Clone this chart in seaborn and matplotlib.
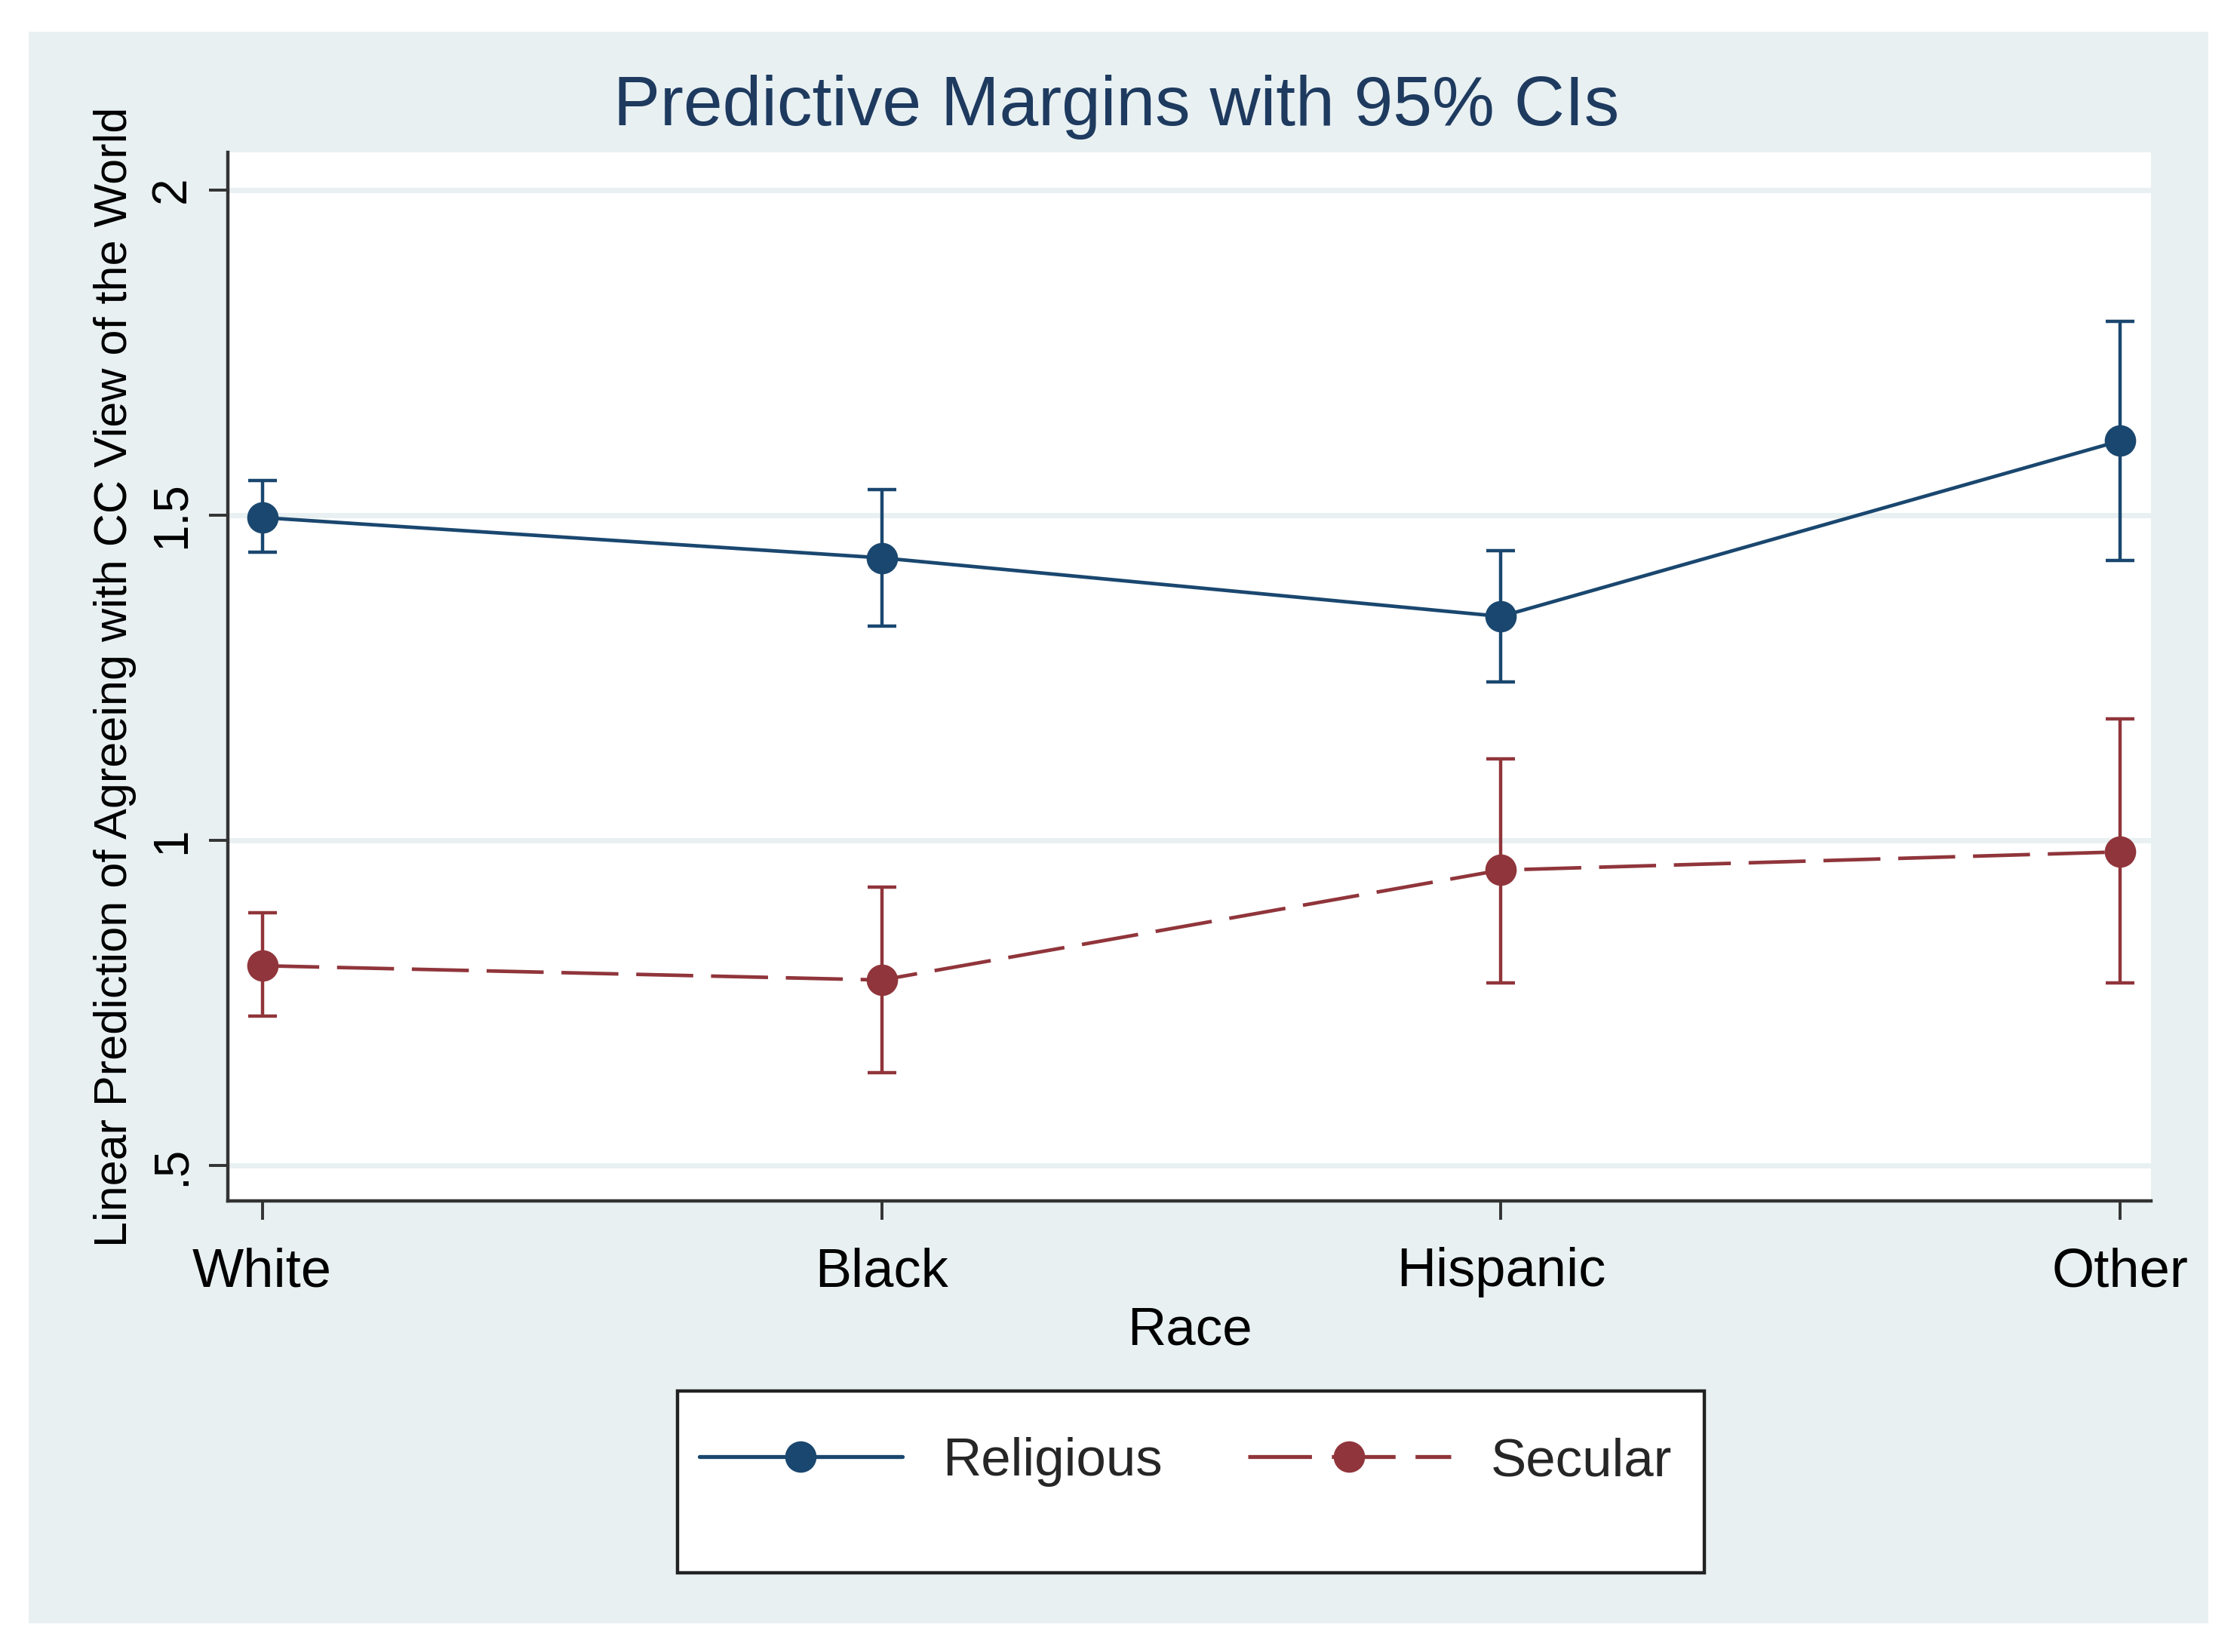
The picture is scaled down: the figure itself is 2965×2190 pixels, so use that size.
import matplotlib
matplotlib.use("Agg")
import matplotlib.pyplot as plt
from matplotlib.patches import Rectangle
import pandas as pd
import seaborn as sns

# values (predictive margins and 95% CIs)
race = ["White", "Black", "Hispanic", "Other"]
religious = [1.496, 1.434, 1.344, 1.614]
religious_lo = [1.443, 1.329, 1.243, 1.430]
religious_hi = [1.553, 1.539, 1.445, 1.798]
secular = [0.807, 0.785, 0.954, 0.982]
secular_lo = [0.730, 0.643, 0.781, 0.781]
secular_hi = [0.888, 0.928, 1.125, 1.186]
groups = ["Religious", "Secular"]
yticks = [0.5, 1.0, 1.5, 2.0]
ytick_labels = [".5", "1", "1.5", "2"]

navy = "#1A476F"
maroon = "#90353B"
bg = "#E8F0F2"

df = pd.DataFrame({
    "race": race * 2,
    "group": [groups[0]] * 4 + [groups[1]] * 4,
    "margin": religious + secular,
    "lo": religious_lo + secular_lo,
    "hi": religious_hi + secular_hi,
})

sns.set_theme(style="white")
plt.rcParams["font.family"] = ["Liberation Sans", "DejaVu Sans"]

fig = plt.figure(figsize=(14.825, 10.95), dpi=200, facecolor="white")
fig.patches.append(Rectangle((0.0128, 0.0173), 0.9744, 0.9637, transform=fig.transFigure,
                             facecolor=bg, edgecolor="none", zorder=-10))
ax = fig.add_axes([0.102, 0.2729, 0.8597, 0.6347])
ax.set_facecolor("white")

palette = {"Religious": navy, "Secular": maroon}

# confidence intervals
for g in groups:
    sub = df[df["group"] == g]
    ax.errorbar(sub["race"], sub["margin"],
                yerr=[sub["margin"] - sub["lo"], sub["hi"] - sub["margin"]],
                fmt="none", ecolor=palette[g], elinewidth=1.6, capsize=7,
                capthick=1.6, zorder=2)

sns.lineplot(data=df, x="race", y="margin", hue="group", style="group",
             palette=palette, markers={"Religious": "o", "Secular": "o"},
             dashes={"Religious": "", "Secular": (16, 5)},
             linewidth=1.7, markersize=15, markeredgewidth=0,
             sort=False, ax=ax, zorder=3)

handles, labels = ax.get_legend_handles_labels()
ax.get_legend().remove()
for h in handles:
    h.set_linewidth(1.9)
    h.set_markersize(15)

ax.set_xlim(-0.055, 3.05)
ax.set_ylim(0.445, 2.057)
ax.set_yticks(yticks)
ax.set_yticklabels(ytick_labels, rotation=90, va="center")
ax.grid(axis="y", color=bg, linewidth=2.5)
ax.grid(axis="x", visible=False)
ax.set_axisbelow(True)

for s in ["top", "right"]:
    ax.spines[s].set_visible(False)
for s in ["left", "bottom"]:
    ax.spines[s].set_color("#333333")
    ax.spines[s].set_linewidth(1.6)

ax.tick_params(axis="both", which="major", direction="out", length=9, width=1.4,
               color="#333333", labelcolor="black", left=True, bottom=True)
ax.tick_params(axis="y", labelsize=23, pad=7)
ax.tick_params(axis="x", labelsize=26, pad=13)

ax.set_xlabel("Race", fontsize=25.5, color="black", labelpad=4)
ax.set_ylabel("Linear Prediction of Agreeing with CC View of the World",
              fontsize=22, color="black", labelpad=6)

fig.text(0.499, 0.935, "Predictive Margins with 95% CIs", fontsize=33.5,
         color="#1E3A5F", ha="center", va="center")

# legend box (Stata style, extra room below the entries)
fig.patches.append(Rectangle((0.303, 0.048), 0.459, 0.110, transform=fig.transFigure,
                             facecolor="white", edgecolor="#222222", linewidth=1.6, zorder=5))
leg = fig.legend(handles, labels, loc="center", bbox_to_anchor=(0.530, 0.115), ncol=2,
                 frameon=False, fontsize=25.5, handlelength=3.8, columnspacing=1.6,
                 handletextpad=0.75)
leg.set_zorder(6)

fig.savefig("out.png", dpi=200, facecolor="white")
